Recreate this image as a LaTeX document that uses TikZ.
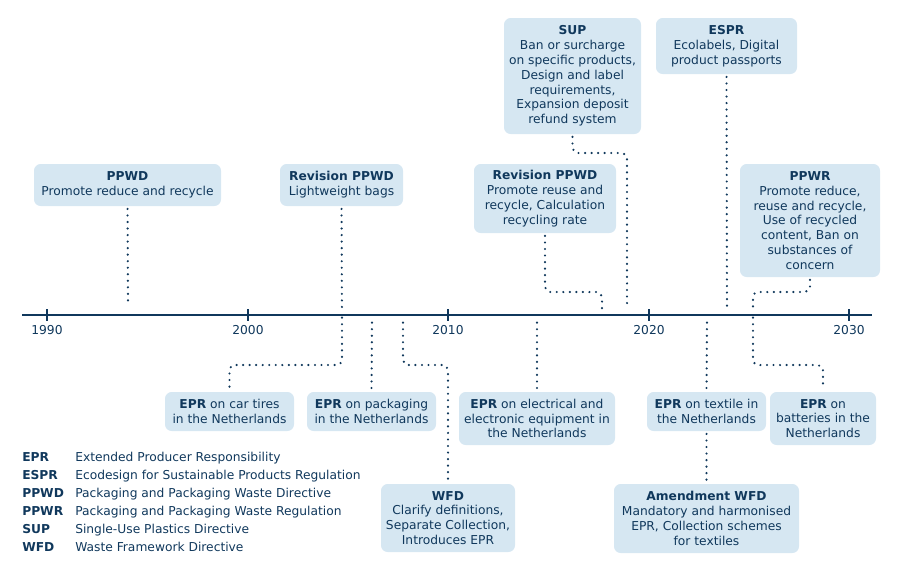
\documentclass[tikz,border=0pt]{standalone}
\usepackage{fontspec}
\setmainfont{DejaVu Sans}
\usetikzlibrary{positioning,calc}
\definecolor{darkblue}{RGB}{16,56,92}
\definecolor{boxblue}{RGB}{214,231,242}
\tikzset{
  evbox/.style={fill=boxblue, text=darkblue, rounded corners=5pt, align=center,
    inner sep=0pt, font=\fontsize{9.2}{11.1}\selectfont},
  dotline/.style={darkblue, line width=1.8pt, line cap=round, dash pattern=on 0pt off 4.9pt,
    rounded corners=4pt, shorten <=2pt, shorten >=2pt},
  axisline/.style={darkblue, line width=1.5pt},
  yearlbl/.style={text=darkblue, inner sep=0pt, font=\fontsize{9.2}{11.1}\selectfont},
  legkey/.style={anchor=base west, inner sep=0pt, text=darkblue, font=\fontsize{9.2}{11.1}\selectfont\bfseries},
  legtxt/.style={anchor=base west, inner sep=0pt, text=darkblue, font=\fontsize{9.2}{11.1}\selectfont}
}

\begin{document}
\begin{tikzpicture}[x=0.75pt,y=-0.75pt]
    \useasboundingbox (0,0) rectangle (900,576);

    % Time axis
    \coordinate (axl) at (22,315);
    \coordinate (axr) at (872,315);
    \draw[axisline] (axl) -- (axr);
    \draw[axisline] (47,309) -- (47,321);
    \draw[axisline] (248,309) -- (248,321);
    \draw[axisline] (448,309) -- (448,321);
    \draw[axisline] (649,309) -- (649,321);
    \draw[axisline] (849,309) -- (849,321);
    \node[yearlbl] (y1990) at (47,330) {1990};
    \node[yearlbl] (y2000) at (248,330) {2000};
    \node[yearlbl] (y2010) at (448,330) {2010};
    \node[yearlbl] (y2020) at (649,330) {2020};
    \node[yearlbl] (y2030) at (849,330) {2030};

    % Points on the axis and bend levels
    \coordinate (t1994) at (128,308);
    \coordinate (t2004) at (342,315);
    \coordinate (t2006) at (372,320);
    \coordinate (t2007) at (403,320);
    \coordinate (t2014) at (537,320);
    \coordinate (t2018) at (602,312);
    \coordinate (t2019) at (627,312);
    \coordinate (t2023) at (707,320);
    \coordinate (t2024) at (727,312);
    \coordinate (t2025) at (753,315);
    \coordinate (lvlS) at (0,153);
    \coordinate (lvlA) at (0,292);
    \coordinate (lvlB) at (0,365);

    % Events above the axis
    \node[evbox, minimum width=140.25pt, minimum height=31.5pt] (ppwd) at (127.5,185)
        {\textbf{PPWD}\\Promote reduce and recycle};
    \node[evbox, minimum width=92.25pt, minimum height=31.5pt] (rev1) at (341.5,185)
        {\textbf{Revision PPWD}\\Lightweight bags};
    \node[evbox, minimum width=102.75pt, minimum height=87pt] (sup) at (572.5,76)
        {\textbf{SUP}\\Ban or surcharge\\on specific products,\\Design and label\\requirements,\\Expansion deposit\\refund system};
    \node[evbox, minimum width=105.75pt, minimum height=42pt] (espr) at (726.5,46)
        {\textbf{ESPR}\\Ecolabels, Digital\\product passports};
    \node[evbox, minimum width=106.5pt, minimum height=51.75pt] (rev2) at (545,198.5)
        {\textbf{Revision PPWD}\\Promote reuse and\\recycle, Calculation\\recycling rate};
    \node[evbox, minimum width=105pt, minimum height=84.75pt] (ppwr) at (810,220.5)
        {\textbf{PPWR}\\Promote reduce,\\reuse and recycle,\\Use of recycled\\content, Ban on\\substances of\\concern};

    % Events below the axis
    \node[evbox, minimum width=96.75pt, minimum height=29.25pt] (tires) at (229.5,411.5)
        {\textbf{EPR} on car tires\\in the Netherlands};
    \node[evbox, minimum width=96.75pt, minimum height=29.25pt] (pack) at (371.5,411.5)
        {\textbf{EPR} on packaging\\in the Netherlands};
    \node[evbox, minimum width=100.5pt, minimum height=51pt] (wfd) at (448,518)
        {\textbf{WFD}\\Clarify definitions,\\Separate Collection,\\Introduces EPR};
    \node[evbox, minimum width=117pt, minimum height=39.75pt] (elec) at (537,418.5)
        {\textbf{EPR} on electrical and\\electronic equipment in\\the Netherlands};
    \node[evbox, minimum width=89.25pt, minimum height=29.25pt] (textile) at (706.5,411.5)
        {\textbf{EPR} on textile in\\the Netherlands};
    \node[evbox, minimum width=79.5pt, minimum height=39.75pt] (batt) at (823,418.5)
        {\textbf{EPR} on\\batteries in the\\Netherlands};
    \node[evbox, minimum width=138.75pt, minimum height=51.75pt] (amend) at (706.5,518.5)
        {\textbf{Amendment WFD}\\Mandatory and harmonised\\EPR, Collection schemes\\for textiles};

    % Dotted links to the axis
    \draw[dotline] (ppwd.south) -- (t1994);
    \draw[dotline] (rev1.south) -- (t2004);
    \draw[dotline] (t2004) -- (t2004 |- lvlB) -| (tires.north);
    \draw[dotline] (t2006) -- (pack.north);
    \draw[dotline] (t2007) -- (t2007 |- lvlB) -| (wfd.north);
    \draw[dotline] (t2014) -- (elec.north);
    \draw[dotline] (rev2.south) -- (rev2.south |- lvlA) -| (t2018);
    \draw[dotline] (sup.south) -- (sup.south |- lvlS) -| (t2019);
    \draw[dotline] (espr.south) -- (t2024);
    \draw[dotline] (ppwr.south) -- (ppwr.south |- lvlA) -| (t2025);
    \draw[dotline] (t2025) -- (t2025 |- lvlB) -| (batt.north);
    \draw[dotline] (t2023) -- (textile.north);
    \draw[dotline] (textile.south) -- (amend.north);

    % Legend
    \node[legkey] (kepr) at (22,461) {EPR};
    \node[legtxt] (depr) at (75,461) {Extended Producer Responsibility};
    \node[legkey] (kespr) at (22,479) {ESPR};
    \node[legtxt] (despr) at (75,479) {Ecodesign for Sustainable Products Regulation};
    \node[legkey] (kppwd) at (22,497) {PPWD};
    \node[legtxt] (dppwd) at (75,497) {Packaging and Packaging Waste Directive};
    \node[legkey] (kppwr) at (22,515) {PPWR};
    \node[legtxt] (dppwr) at (75,515) {Packaging and Packaging Waste Regulation};
    \node[legkey] (ksup) at (22,533) {SUP};
    \node[legtxt] (dsup) at (75,533) {Single-Use Plastics Directive};
    \node[legkey] (kwfd) at (22,551) {WFD};
    \node[legtxt] (dwfd) at (75,551) {Waste Framework Directive};
\end{tikzpicture}
\end{document}
